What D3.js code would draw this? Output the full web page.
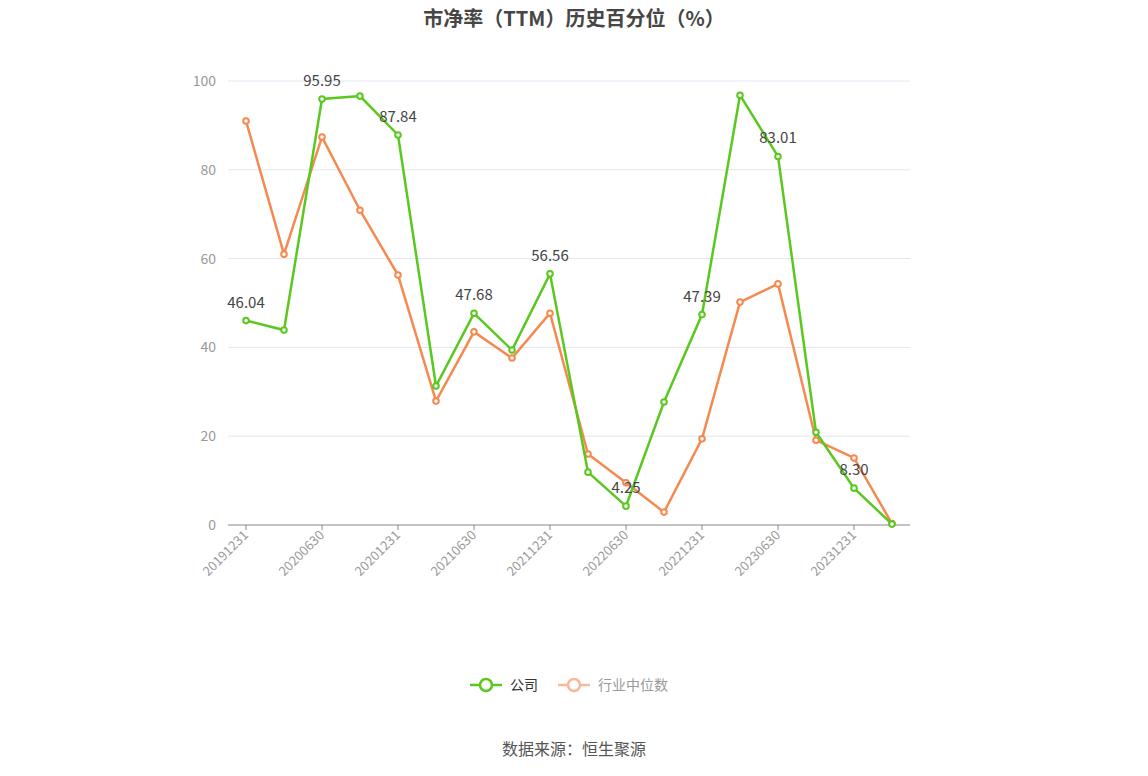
<!DOCTYPE html><html><head><meta charset="utf-8"><script src="https://cdn.jsdelivr.net/npm/d3@7"></script>
<style>body{margin:0;background:#fff;font-family:"Noto Sans CJK SC","Noto Sans",sans-serif}</style></head><body><svg id="c" width="1148" height="776"></svg><script>
const categories=["20191231","20200331","20200630","20200930","20201231","20210331","20210630","20210930","20211231","20220331","20220630","20220930","20221231","20230331","20230630","20230930","20231231","20240331"];
const company=[46.04,43.9,95.95,96.6,87.84,31.3,47.68,39.4,56.56,11.9,4.25,27.7,47.39,96.8,83.01,20.9,8.30,0.2];
const industry=[91.0,61.0,87.4,70.9,56.3,27.9,43.5,37.6,47.7,16.0,9.5,2.9,19.4,50.2,54.3,19.1,15.1,0.3];
const yTicks=[0,20,40,60,80,100];
const labelIdx=[0,2,4,6,8,10,12,14,16];
const svg=d3.select("#c");
const x=d3.scalePoint().domain(categories).range([246,892]);
const y=d3.scaleLinear().domain([0,100]).range([525,81]);
svg.append("text").attr("x",574).attr("y",26).attr("text-anchor","middle").attr("font-size",20).attr("font-weight","bold").attr("fill","#464646").text("市净率（TTM）历史百分位（%）");
// grid
svg.append("g").selectAll("line").data(yTicks.slice(1)).join("line").attr("x1",228).attr("x2",910).attr("y1",d=>y(d)).attr("y2",d=>y(d)).attr("stroke","#e0e6f1");
svg.append("g").selectAll("text").data(yTicks).join("text").attr("x",216).attr("y",d=>y(d)+5).attr("text-anchor","end").attr("font-size",14).attr("fill","#999").text(d=>d);
// x axis
svg.append("line").attr("x1",228).attr("x2",910).attr("y1",525).attr("y2",525).attr("stroke","#888");
const tickCats=categories.filter((d,i)=>i%2===0);
svg.append("g").selectAll("line").data(tickCats).join("line").attr("x1",d=>x(d)).attr("x2",d=>x(d)).attr("y1",525).attr("y2",530).attr("stroke","#888");
svg.append("g").selectAll("text").data(tickCats.slice(0,9)).join("text").attr("transform",d=>`translate(${x(d)+3},${536}) rotate(-45)`).attr("text-anchor","end").attr("font-size",13).attr("fill","#999").text(d=>d);
function series(data,color){
  const line=d3.line().x((d,i)=>x(categories[i])).y(d=>y(d));
  svg.append("path").datum(data).attr("d",line).attr("fill","none").attr("stroke",color).attr("stroke-width",2.5);
  svg.append("g").selectAll("circle").data(data).join("circle").attr("cx",(d,i)=>x(categories[i])).attr("cy",d=>y(d)).attr("r",2.8).attr("fill","#fff").attr("stroke",color).attr("stroke-width",2);
}
series(industry,"#f5894f");
series(company,"#5ac81e");
svg.append("g").selectAll("text").data(labelIdx).join("text").attr("x",i=>x(categories[i])).attr("y",i=>y(company[i])-13).attr("text-anchor","middle").attr("font-size",15).attr("fill","#444").text(i=>company[i].toFixed(2));
// legend
const lg=svg.append("g");
lg.append("line").attr("x1",470).attr("x2",502).attr("y1",685).attr("y2",685).attr("stroke","#5ac81e").attr("stroke-width",2.5);
lg.append("circle").attr("cx",486).attr("cy",685).attr("r",6).attr("fill","#fff").attr("stroke","#5ac81e").attr("stroke-width",2.5);
lg.append("text").attr("x",510).attr("y",690).attr("font-size",14).attr("fill","#333").text("公司");
lg.append("line").attr("x1",558).attr("x2",590).attr("y1",685).attr("y2",685).attr("stroke","#f9b89a").attr("stroke-width",2.5);
lg.append("circle").attr("cx",574).attr("cy",685).attr("r",6).attr("fill","#fff").attr("stroke","#f9b89a").attr("stroke-width",2.5);
lg.append("text").attr("x",598).attr("y",690).attr("font-size",14).attr("fill","#999").text("行业中位数");
svg.append("text").attr("x",574).attr("y",755).attr("text-anchor","middle").attr("font-size",16).attr("fill","#555").text("数据来源：恒生聚源");
</script></body></html>
